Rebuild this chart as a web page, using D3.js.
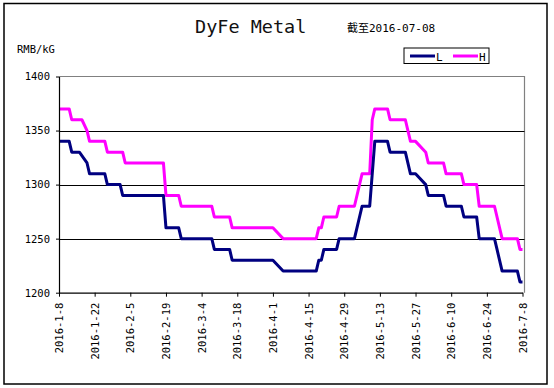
<!DOCTYPE html>
<html>
<head>
<meta charset="utf-8">
<script src="https://cdn.jsdelivr.net/npm/d3@7"></script>
<style>
  body { margin: 0; background: #fff; }
  svg text { font-family: "DejaVu Sans Mono", "Noto Sans CJK SC", monospace; }
</style>
</head>
<body>
<div id="chart"></div>
<script>
const title = "DyFe Metal";
const subtitle = "截至2016-07-08";
const unitLabel = "RMB/kG";

const xTickLabels = ["2016-1-8", "2016-1-22", "2016-2-5", "2016-2-19", "2016-3-4", "2016-3-18", "2016-4-1",
    "2016-4-15", "2016-4-29", "2016-5-13", "2016-5-27", "2016-6-10", "2016-6-24", "2016-7-8"];
const yTicks = [1200, 1250, 1300, 1350, 1400];

// L series: [date, RMB/kg]
const lowSeries = [
    ["2016-01-08", 1340], ["2016-01-12", 1340], ["2016-01-13", 1330], ["2016-01-16", 1330],
    ["2016-01-19", 1320], ["2016-01-20", 1310], ["2016-01-26", 1310], ["2016-01-27", 1300],
    ["2016-02-01", 1300], ["2016-02-02", 1290], ["2016-02-18", 1290], ["2016-02-19", 1260],
    ["2016-02-24", 1260], ["2016-02-25", 1250], ["2016-03-08", 1250], ["2016-03-09", 1240],
    ["2016-03-15", 1240], ["2016-03-16", 1230], ["2016-04-01", 1230], ["2016-04-05", 1220],
    ["2016-04-18", 1220], ["2016-04-19", 1230], ["2016-04-20", 1230], ["2016-04-21", 1240],
    ["2016-04-26", 1240], ["2016-04-27", 1250], ["2016-05-03", 1250], ["2016-05-06", 1280],
    ["2016-05-09", 1280], ["2016-05-11", 1340], ["2016-05-16", 1340], ["2016-05-17", 1330],
    ["2016-05-23", 1330], ["2016-05-25", 1310], ["2016-05-27", 1310], ["2016-05-31", 1300],
    ["2016-06-01", 1290], ["2016-06-07", 1290], ["2016-06-08", 1280], ["2016-06-14", 1280],
    ["2016-06-15", 1270], ["2016-06-20", 1270], ["2016-06-21", 1250], ["2016-06-27", 1250],
    ["2016-06-28", 1240], ["2016-06-30", 1220], ["2016-07-06", 1220], ["2016-07-07", 1210],
    ["2016-07-08", 1210]
];

// H series
const highSeries = [
    ["2016-01-08", 1370], ["2016-01-12", 1370], ["2016-01-13", 1360], ["2016-01-17", 1360],
    ["2016-01-19", 1350], ["2016-01-20", 1340], ["2016-01-26", 1340], ["2016-01-27", 1330],
    ["2016-02-02", 1330], ["2016-02-03", 1320], ["2016-02-18", 1320], ["2016-02-19", 1290],
    ["2016-02-24", 1290], ["2016-02-25", 1280], ["2016-03-08", 1280], ["2016-03-09", 1270],
    ["2016-03-15", 1270], ["2016-03-16", 1260], ["2016-04-01", 1260], ["2016-04-05", 1250],
    ["2016-04-18", 1250], ["2016-04-19", 1260], ["2016-04-20", 1260], ["2016-04-21", 1270],
    ["2016-04-26", 1270], ["2016-04-27", 1280], ["2016-05-03", 1280], ["2016-05-06", 1310],
    ["2016-05-09", 1310], ["2016-05-10", 1360], ["2016-05-11", 1370], ["2016-05-16", 1370],
    ["2016-05-17", 1360], ["2016-05-23", 1360], ["2016-05-25", 1340], ["2016-05-27", 1340],
    ["2016-05-31", 1330], ["2016-06-01", 1320], ["2016-06-07", 1320], ["2016-06-08", 1310],
    ["2016-06-14", 1310], ["2016-06-15", 1300], ["2016-06-20", 1300], ["2016-06-21", 1280],
    ["2016-06-27", 1280], ["2016-06-28", 1270], ["2016-06-30", 1250], ["2016-07-06", 1250],
    ["2016-07-07", 1240], ["2016-07-08", 1240]
];

const w = 554, h = 388;
const plotLeft = 59, plotRight = 522.5, plotTop = 76.5, plotBottom = 292.7;
const parseDate = d3.timeParse("%Y-%m-%d");
const tickDates = xTickLabels.map(parseDate);

const xScale = d3.scaleTime()
    .domain([parseDate("2016-01-08"), parseDate("2016-07-08")])
    .range([plotLeft, plotRight]);
const yScale = d3.scaleLinear()
    .domain([1200, 1400])
    .range([plotBottom, plotTop]);

const svg = d3.select("#chart").append("svg")
    .attr("width", w)
    .attr("height", h);

svg.append("rect")
    .attr("x", 4).attr("y", 3.5)
    .attr("width", 543).attr("height", 380.5)
    .attr("fill", "#fff")
    .attr("stroke", "#000")
    .attr("stroke-width", 1.5);

// plot area border (top / right are grey)
svg.append("path")
    .attr("d", `M${plotLeft},${yScale(1400)}H${plotRight + 2}V${plotBottom}`)
    .attr("fill", "none")
    .attr("stroke", "#808080")
    .attr("stroke-width", 1.2);

// gridlines
svg.append("g")
    .selectAll("line")
    .data(yTicks.filter(v => v > 1200 && v < 1400))
    .enter()
    .append("line")
    .attr("x1", plotLeft).attr("x2", plotRight + 2)
    .attr("y1", d => Math.round(yScale(d)) + 0.5)
    .attr("y2", d => Math.round(yScale(d)) + 0.5)
    .attr("stroke", "#000")
    .attr("stroke-width", 1);

const line = d3.line()
    .x(d => xScale(parseDate(d[0])))
    .y(d => yScale(d[1]));

svg.append("path")
    .datum(highSeries)
    .attr("d", line)
    .attr("fill", "none")
    .attr("stroke", "#ff00ff")
    .attr("stroke-width", 3)
    .attr("stroke-linejoin", "round");

svg.append("path")
    .datum(lowSeries)
    .attr("d", line)
    .attr("fill", "none")
    .attr("stroke", "#000080")
    .attr("stroke-width", 3)
    .attr("stroke-linejoin", "round");

// axes
const xAxis = d3.axisBottom(xScale)
    .tickValues(tickDates)
    .tickFormat((d, i) => xTickLabels[i])
    .tickSizeInner(4)
    .tickSizeOuter(0);

const gx = svg.append("g")
    .attr("transform", `translate(0, ${plotBottom})`)
    .call(xAxis);
gx.select(".domain").attr("stroke", "#000").attr("stroke-width", 1.2);
gx.selectAll("text")
    .attr("font-size", 10.5)
    .attr("fill", "#000")
    .attr("text-anchor", "end")
    .attr("dy", "0.35em")
    .attr("transform", "rotate(-90)")
    .attr("x", -10)
    .attr("y", 0);

const yAxis = d3.axisLeft(yScale)
    .tickValues(yTicks)
    .tickFormat(d3.format("d"))
    .tickSizeInner(3)
    .tickSizeOuter(0);

const gy = svg.append("g")
    .attr("transform", `translate(${plotLeft}, 0)`)
    .call(yAxis);
gy.select(".domain").attr("stroke", "#000").attr("stroke-width", 1.2);
gy.selectAll("text")
    .attr("font-size", 10.5)
    .attr("fill", "#000")
    .attr("x", -9);

// titles
svg.append("text")
    .attr("x", 195).attr("y", 33)
    .attr("font-size", 18.5)
    .attr("fill", "#111")
    .text(title);

svg.append("text")
    .attr("x", 347).attr("y", 32)
    .attr("font-size", 11)
    .text(subtitle);

svg.append("text")
    .attr("x", 17).attr("y", 53)
    .attr("font-size", 10.5)
    .text(unitLabel);

// legend
const legend = svg.append("g").attr("transform", "translate(404, 48)");
legend.append("rect")
    .attr("width", 85).attr("height", 15.5)
    .attr("fill", "#fff")
    .attr("stroke", "#000")
    .attr("stroke-width", 1);

const legendItems = [["L", "#000080"], ["H", "#ff00ff"]];
legendItems.forEach((item, i) => {
    legend.append("line")
        .attr("x1", 6 + i * 43).attr("x2", 31 + i * 43)
        .attr("y1", 8).attr("y2", 8)
        .attr("stroke", item[1])
        .attr("stroke-width", 3);
    legend.append("text")
        .attr("x", 32 + i * 43).attr("y", 12.5)
        .attr("font-size", 11)
        .text(item[0]);
});
</script>
</body>
</html>
